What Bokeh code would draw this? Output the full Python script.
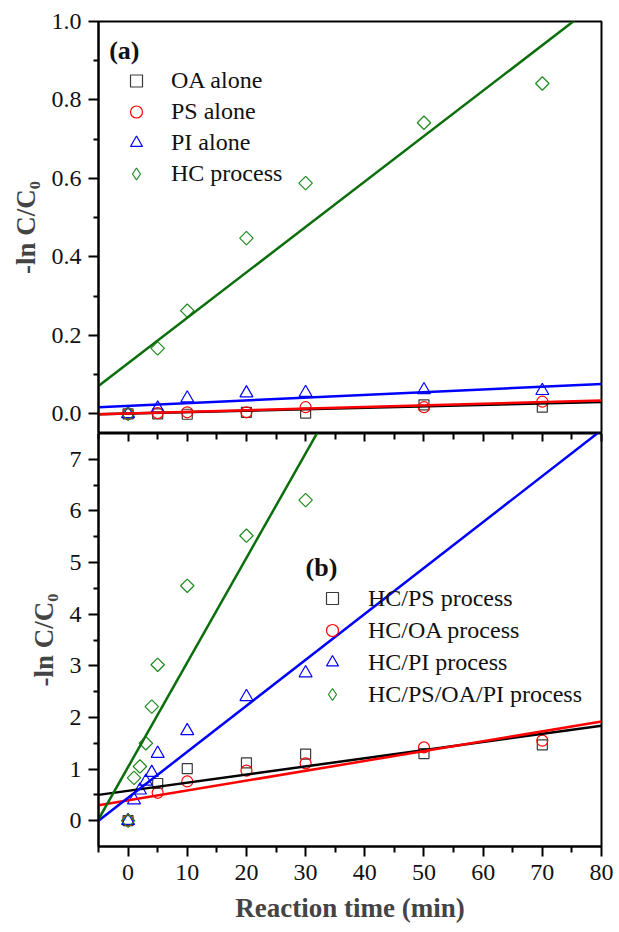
from bokeh.plotting import figure
from bokeh.models import (LinearAxis, FixedTicker, Legend, LegendItem, Label,
                          Range1d, NumeralTickFormatter)
from bokeh.layouts import column
from bokeh.embed import file_html
from bokeh.resources import INLINE

FONT = "Liberation Serif, Times New Roman, serif"

# ---------------- data ----------------
# panel (a)
t_a = [0, 5, 10, 20, 30, 50, 70]
oa_alone = [0.0, 0.0, -0.001, 0.004, 0.002, 0.023, 0.017]
ps_alone = [0.0, 0.002, 0.004, 0.004, 0.017, 0.017, 0.031]
pi_alone = [0.0, 0.014, 0.040, 0.053, 0.054, 0.061, 0.059]
hc_process = [0.0, 0.167, 0.263, 0.448, 0.588, 0.742, 0.842]
labels_a = ["OA alone", "PS alone", "PI alone", "HC process"]
slope_a = [0.000365, 0.000412, 0.000694, 0.01158]
icept_a = [0.0008, 0.001, 0.0205, 0.129]

# panel (b)
t_b1 = [0, 5, 10, 20, 30, 50, 70]
hc_ps = [0.0, 0.72, 1.01, 1.12, 1.29, 1.30, 1.47]
hc_oa = [0.0, 0.54, 0.76, 0.97, 1.11, 1.42, 1.55]
t_b2 = [0, 1, 2, 3, 4, 5, 10, 20, 30]
hc_pi = [0.0, 0.40, 0.59, 0.76, 0.93, 1.30, 1.74, 2.40, 2.86]
hc_ps_oa_pi = [0.0, 0.83, 1.05, 1.50, 2.21, 3.02, 4.55, 5.52, 6.21]
labels_b = ["HC/PS process", "HC/OA process", "HC/PI process", "HC/PS/OA/PI process"]
slope_b = [0.01576, 0.01906, 0.089, 0.2025]
icept_b = [0.579, 0.395, 0.445, 1.04]

x_ticks = [0, 10, 20, 30, 40, 50, 60, 70, 80]
x_minor = [-5, 5, 15, 25, 35, 45, 55, 65, 75]
ya_ticks = [0.0, 0.2, 0.4, 0.6, 0.8, 1.0]
ya_minor = [0.1, 0.3, 0.5, 0.7, 0.9]
yb_ticks = [0, 1, 2, 3, 4, 5, 6, 7]
yb_minor = [0.5, 1.5, 2.5, 3.5, 4.5, 5.5, 6.5]
fit_x = [-5, 80]

# ---------------- styles ----------------
C_BLACK = "#3a3a3a"
C_RED = "#ff0000"
C_BLUE = "#0000ff"
C_GREEN_M = "#1e8a1e"
C_GREEN_L = "#0a6e0a"
line_cols = ["#000000", C_RED, C_BLUE, C_GREEN_L]


def style_y(ax, ticks, minor, fmt):
    ax.ticker = FixedTicker(ticks=ticks, minor_ticks=minor)
    ax.formatter = NumeralTickFormatter(format=fmt)
    ax.axis_line_width = 2
    ax.major_tick_line_width = 2
    ax.minor_tick_line_width = 2
    ax.major_tick_out = 10
    ax.major_tick_in = 0
    ax.minor_tick_out = 5
    ax.minor_tick_in = 0
    ax.major_label_text_font = FONT
    ax.major_label_text_font_size = "24px"
    ax.major_label_text_color = "#111111"
    ax.major_label_standoff = 7
    ax.axis_label = "-ln C/C\u2080"
    ax.axis_label_text_font = FONT
    ax.axis_label_text_font_size = "27px"
    ax.axis_label_text_font_style = "bold"
    ax.axis_label_standoff = 8


def add_markers(p, xs, ysets):
    r1 = p.scatter(xs[0], ysets[0], marker="square", size=10, fill_color=None,
                   line_color=C_BLACK, line_width=1.2)
    r2 = p.scatter(xs[1], ysets[1], marker="circle", size=11, fill_color=None,
                   line_color=C_RED, line_width=1.2)
    r3 = p.scatter(xs[2], ysets[2], marker="triangle", size=13, fill_color=None,
                   line_color=C_BLUE, line_width=1.2)
    # diamonds of the plot: squares turned by 45 degrees
    p.scatter(xs[3], ysets[3], marker="square", angle=0.7853981634, size=9.5,
              fill_color=None, line_color=C_GREEN_M, line_width=1.2)
    # legend key for the diamonds: mapped onto an off-frame range, so only
    # its legend glyph is visible
    p.extra_x_ranges = {"key": Range1d(1000, 1001)}
    r4 = p.scatter(xs[3], ysets[3], marker="diamond", size=15, fill_color=None,
                   line_color=C_GREEN_M, line_width=1.2, x_range_name="key")
    return [r1, r2, r3, r4]


# ---------------- panel (a) ----------------
p1 = figure(width=619, height=433, x_range=Range1d(-5, 80), y_range=Range1d(-0.05, 1.0),
            output_backend="svg", toolbar_location=None, x_axis_location=None,
            min_border_left=98, min_border_right=18, min_border_top=21, min_border_bottom=0)
p1.grid.visible = False
p1.outline_line_color = "black"
p1.outline_line_width = 2
style_y(p1.yaxis[0], ya_ticks, ya_minor, "0.0")

rs_a = add_markers(p1, [t_a] * 4, [oa_alone, ps_alone, pi_alone, hc_process])
for k in range(4):
    p1.line(fit_x, [icept_a[k] + slope_a[k] * x for x in fit_x],
            line_color=line_cols[k], line_width=2.5)

leg_a = Legend(items=[LegendItem(label=labels_a[k], renderers=[rs_a[k]]) for k in range(4)],
               location=(23, 244), padding=0, margin=0, spacing=0,
               glyph_width=30, glyph_height=31, label_height=31, label_standoff=20,
               label_text_font=FONT, label_text_font_size="24px",
               label_text_color="#111111",
               border_line_color=None, background_fill_alpha=0)
p1.add_layout(leg_a)
p1.add_layout(Label(x=-3.2, y=0.925, text="(a)", text_font=FONT, text_font_size="26px",
                    text_font_style="bold", text_baseline="middle", text_color="#111111"))

# ---------------- panel (b) ----------------
p2 = figure(width=619, height=499, x_range=Range1d(-5, 80), y_range=Range1d(-0.5, 7.5),
            output_backend="svg", toolbar_location=None,
            min_border_left=98, min_border_right=18, min_border_top=0, min_border_bottom=86)
p2.grid.visible = False
p2.outline_line_color = "black"
p2.outline_line_width = 2
style_y(p2.yaxis[0], yb_ticks, yb_minor, "0")

xa = p2.xaxis[0]
xa.ticker = FixedTicker(ticks=x_ticks, minor_ticks=x_minor)
xa.formatter = NumeralTickFormatter(format="0")
xa.axis_line_width = 2
xa.major_tick_line_width = 2
xa.minor_tick_line_width = 2
xa.major_tick_out = 10
xa.major_tick_in = 0
xa.minor_tick_out = 6
xa.minor_tick_in = 0
xa.major_label_text_font = FONT
xa.major_label_text_font_size = "24px"
xa.major_label_text_color = "#111111"
xa.major_label_standoff = 8
xa.axis_label = "Reaction time (min)"
xa.axis_label_text_font = FONT
xa.axis_label_text_font_size = "27px"
xa.axis_label_text_font_style = "bold"
xa.axis_label_standoff = 10

# ticks of panel (a)'s bottom axis, hanging into panel (b); no labels drawn
top_ax = LinearAxis(ticker=FixedTicker(ticks=x_ticks, minor_ticks=x_minor),
                    major_label_text_font_size="0px", major_label_text_color=None,
                    major_label_standoff=0,
                    major_tick_in=8, major_tick_out=0, minor_tick_in=6, minor_tick_out=0,
                    major_tick_line_width=2, minor_tick_line_width=2,
                    axis_line_color=None)
p2.add_layout(top_ax, "above")

rs_b = add_markers(p2, [t_b1, t_b1, t_b2, t_b2], [hc_ps, hc_oa, hc_pi, hc_ps_oa_pi])
for k in range(4):
    p2.line(fit_x, [icept_b[k] + slope_b[k] * x for x in fit_x],
            line_color=line_cols[k], line_width=2.5)

leg_b = Legend(items=[LegendItem(label=labels_b[k], renderers=[rs_b[k]]) for k in range(4)],
               location=(219, 136), padding=0, margin=0, spacing=0,
               glyph_width=30, glyph_height=32, label_height=32, label_standoff=21,
               label_text_font=FONT, label_text_font_size="24px",
               label_text_color="#111111",
               border_line_color=None, background_fill_alpha=0)
p2.add_layout(leg_b)
p2.add_layout(Label(x=30, y=4.9, text="(b)", text_font=FONT, text_font_size="26px",
                    text_font_style="bold", text_baseline="middle", text_color="#111111"))

layout = column(p1, p2, spacing=0)
open("out.html", "w").write(file_html(layout, INLINE))
